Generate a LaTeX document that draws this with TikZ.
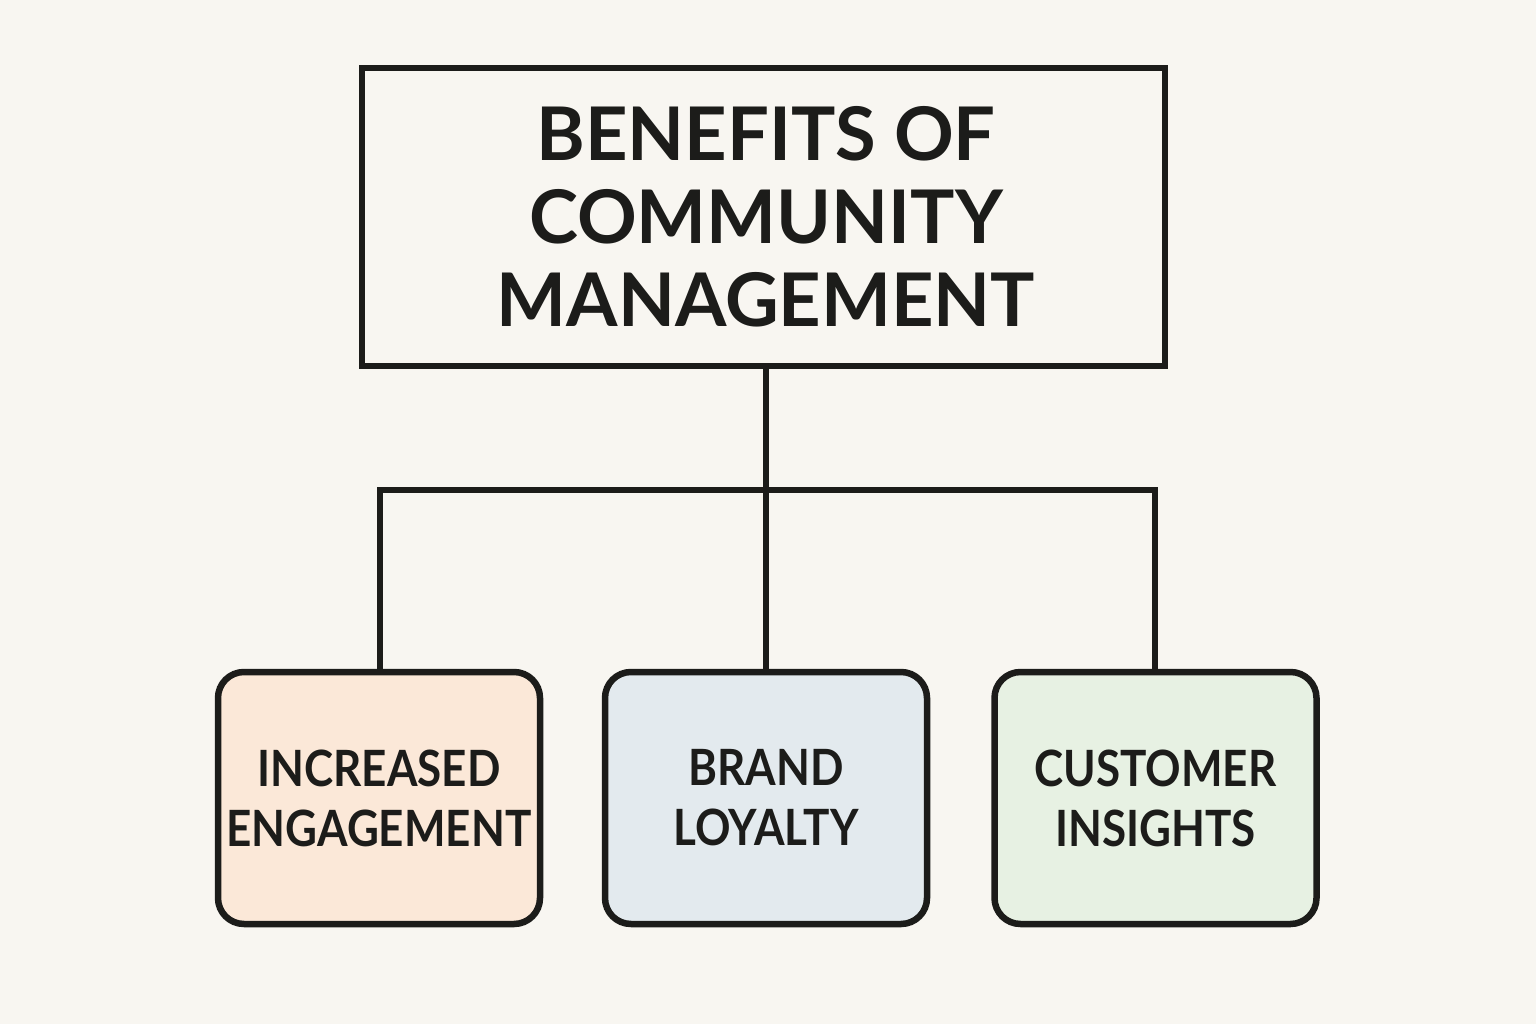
\documentclass[tikz,border=0pt]{standalone}
\usepackage{fontspec}
\setmainfont{Lato}[UprightFont=* Bold]
\newfontfamily\leaffont{Lato}[UprightFont=* Bold, FakeStretch=0.88]
\definecolor{bg}{HTML}{F8F6F1}
\definecolor{ink}{HTML}{1C1C1A}
\definecolor{peach}{HTML}{FBE8D8}
\definecolor{bluegray}{HTML}{E3EAEE}
\definecolor{mint}{HTML}{E7F1E3}
\tikzset{
  titlebox/.style={draw=ink, line width=6.5pt, fill=bg, minimum width=803pt, minimum height=298pt, inner sep=0pt},
  leafbox/.style={draw=ink, line width=6.5pt, rounded corners=26pt, minimum width=322pt, minimum height=252pt, text width=310pt, inner sep=0pt, align=center, font=\leaffont\fontsize{50}{60}\selectfont, text=ink},
  link/.style={draw=ink, line width=6pt, line join=miter}
}
\begin{document}
\begin{tikzpicture}[x=1pt,y=-1pt]
\useasboundingbox[fill=bg] (0,0) rectangle (1536,1024);
\node[titlebox] (top) at (763.5,217) {};
\node[text=ink, align=center, font=\fontsize{74}{83}\selectfont] (title) at (766,217) {BENEFITS OF\\COMMUNITY\\MANAGEMENT};
\node[leafbox, fill=peach] (a) at (379,798) {INCREASED\\ENGAGEMENT};
\node[leafbox, fill=bluegray] (b) at (766,798) {BRAND\\LOYALTY};
\node[leafbox, fill=mint] (c) at (1155.5,798) {CUSTOMER\\INSIGHTS};
\coordinate (j) at (766,490);
\coordinate (jl) at (380,490);
\coordinate (jr) at (1155,490);
\draw[link] (top.south -| j) -- (b.north);
\draw[link] (jl |- a.north) -- (jl) -- (jr) -- (jr |- c.north);
\end{tikzpicture}
\end{document}
